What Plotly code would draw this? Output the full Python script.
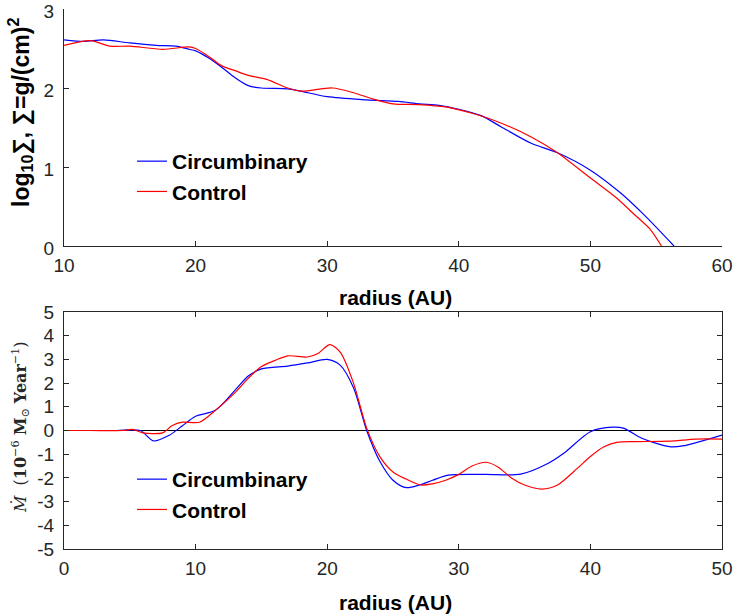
import plotly.graph_objects as go

# ---- Top panel: surface density (log10 Sigma) vs radius ----
r_top_circ = [10, 11.5, 13, 15, 17, 18.5, 19.5, 20, 21, 22, 23, 24, 25, 27, 28, 30, 33, 35.4, 37, 38.5,
              40, 41.7, 43.2, 45.5, 47.5, 50, 52.3, 54.1, 56.35]
sig_circ = [2.61, 2.59, 2.61, 2.57, 2.54, 2.53, 2.49, 2.47, 2.38, 2.26, 2.13, 2.03, 2.00, 1.99, 1.96, 1.89,
            1.85, 1.83, 1.80, 1.78, 1.73, 1.65, 1.51, 1.30, 1.18, 0.96, 0.67, 0.39, 0.0]

r_top_ctrl = [10, 12, 13.5, 15, 17.5, 19.5, 20, 21, 22, 23, 24, 25.4, 27, 28, 30.4, 32, 33.5, 35, 37, 39,
              41, 43, 45.5, 47.5, 50, 51.9, 53.4, 54.5, 55.4]
sig_ctrl = [2.54, 2.60, 2.53, 2.53, 2.49, 2.52, 2.50, 2.40, 2.28, 2.22, 2.16, 2.11, 2.00, 1.96, 2.00, 1.94,
            1.86, 1.80, 1.79, 1.76, 1.68, 1.57, 1.38, 1.18, 0.86, 0.62, 0.39, 0.22, 0.0]

# ---- Bottom panel: mass accretion rate vs radius ----
r_bot_circ = [0, 2, 4, 5.8, 6.8, 8, 9, 10, 11.5, 13, 14, 15, 17, 18.5, 20, 21, 22, 23, 24, 25, 26, 27,
              28, 29.2, 32, 34.7, 36.8, 38, 40, 41.7, 42.5, 44, 46, 47, 50]
mdot_circ = [0, 0, 0, 0, -0.44, -0.2, 0.2, 0.6, 0.85, 1.7, 2.3, 2.6, 2.72, 2.85, 3.0, 2.75, 1.8, 0.0,
             -1.3, -2.1, -2.41, -2.3, -2.1, -1.88, -1.85, -1.84, -1.38, -0.95, -0.05, 0.14, 0.1, -0.35,
             -0.68, -0.65, -0.19]

r_bot_ctrl = [0, 2, 4.5, 5.2, 6, 7.5, 8.2, 9, 10.3, 11.5, 13, 14, 15, 16, 17, 18.5, 19.3, 20.2, 21, 22, 23,
              24, 25, 26, 27.1, 28, 29, 30, 31, 32.1, 33, 34, 35, 36.3, 37.5, 39, 40, 41, 42, 43.4, 46,
              48, 50]
mdot_ctrl = [0, 0, 0, 0.05, -0.1, -0.1, 0.2, 0.35, 0.35, 0.85, 1.6, 2.2, 2.7, 2.95, 3.15, 3.1, 3.25, 3.62,
             3.3, 2.0, 0.1, -1.1, -1.75, -2.05, -2.3, -2.25, -2.1, -1.85, -1.5, -1.34, -1.55, -2.0,
             -2.3, -2.47, -2.3, -1.6, -1.1, -0.7, -0.5, -0.47, -0.45, -0.36, -0.36]

top_xticks = [10, 20, 30, 40, 50, 60]
top_yticks = [0, 1, 2, 3]
bot_xticks = [0, 10, 20, 30, 40, 50]
bot_yticks = [-5, -4, -3, -2, -1, 0, 1, 2, 3, 4, 5]
bot_ytick_text = ["-5", "-4", "-3", "-2", "-1", "0", "1", "2", "3", "4", "5"]

BLUE = "#0000ff"
RED = "#ff0000"
AX = "#262626"
W, H = 736, 615

fig = go.Figure()
line_kw = dict(width=1.2, shape="spline", smoothing=0.8)
fig.add_trace(go.Scatter(x=r_top_circ, y=sig_circ, mode="lines", name="Circumbinary",
                         line=dict(color=BLUE, **line_kw),
                         xaxis="x", yaxis="y", legend="legend", legendgroup="a"))
fig.add_trace(go.Scatter(x=r_top_ctrl, y=sig_ctrl, mode="lines", name="Control",
                         line=dict(color=RED, **line_kw),
                         xaxis="x", yaxis="y", legend="legend", legendgroup="b"))
fig.add_trace(go.Scatter(x=r_bot_circ, y=mdot_circ, mode="lines", name="Circumbinary",
                         line=dict(color=BLUE, **line_kw),
                         xaxis="x2", yaxis="y2", legend="legend2", legendgroup="c"))
fig.add_trace(go.Scatter(x=r_bot_ctrl, y=mdot_ctrl, mode="lines", name="Control",
                         line=dict(color=RED, **line_kw),
                         xaxis="x2", yaxis="y2", legend="legend2", legendgroup="d"))

def px_x(p):
    return p / W

def px_y(p):
    return 1 - p / H

SANS = "Liberation Sans, Arial, Helvetica, sans-serif"
tickfont = dict(family=SANS, size=19, color=AX)
common = dict(showgrid=False, showline=True, linecolor=AX, linewidth=1, ticks="inside",
              ticklen=5, tickcolor=AX, tickfont=tickfont, ticklabeloverflow="allow")

legfont = dict(family=SANS, size=21, color="black", weight="bold")

fig.update_layout(
    width=W, height=H, margin=dict(l=0, r=0, t=0, b=0, pad=0, autoexpand=False),
    paper_bgcolor="white", plot_bgcolor="white",
    xaxis=dict(domain=[px_x(64), px_x(722)], range=[10, 60], tickvals=top_xticks, anchor="y",
               zeroline=False, ticklabelstandoff=2, **common),
    yaxis=dict(domain=[px_y(246), px_y(9)], range=[0, 3], tickvals=top_yticks, anchor="x",
               zeroline=False, ticklabelstandoff=5, ticklabelshift=2, **common),
    xaxis2=dict(domain=[px_x(64), px_x(722)], range=[0, 50], tickvals=bot_xticks, anchor="y2",
                mirror="ticks", zeroline=False, ticklabelstandoff=2, **common),
    yaxis2=dict(domain=[px_y(549), px_y(312)], range=[-5, 5], tickvals=bot_yticks,
                ticktext=bot_ytick_text, anchor="x2",
                mirror="ticks", ticklabelstandoff=5, zeroline=True, zerolinecolor="black",
                zerolinewidth=1, **common),
    legend=dict(x=px_x(132), y=px_y(141), xanchor="left", yanchor="top", font=legfont,
                bgcolor="rgba(0,0,0,0)", tracegroupgap=0, traceorder="grouped"),
    legend2=dict(x=px_x(132), y=px_y(459), xanchor="left", yanchor="top", font=legfont,
                 bgcolor="rgba(0,0,0,0)", tracegroupgap=0, traceorder="grouped"),
    showlegend=True,
)

titlefont = dict(family=SANS, size=21, color="black", weight="bold")
fig.add_annotation(text="radius (AU)", x=px_x(395), y=px_y(297), xref="paper", yref="paper",
                   showarrow=False, font=titlefont, xanchor="center", yanchor="middle")
fig.add_annotation(text="radius (AU)", x=px_x(395), y=px_y(602), xref="paper", yref="paper",
                   showarrow=False, font=titlefont, xanchor="center", yanchor="middle")
fig.add_annotation(text="log<sub>10</sub>∑, ∑=g/(cm)<sup>2</sup>", x=px_x(20), y=px_y(113),
                   xref="paper", yref="paper", showarrow=False, textangle=-90,
                   font=dict(family=SANS, size=23, color="black", weight="bold"),
                   xanchor="center", yanchor="middle")
fig.add_annotation(text="<i>Ṁ</i>  (<b>10</b><sup>−6</sup> <b>M</b><sub>⊙</sub> <b>Year</b><sup>−1</sup>)",
                   x=px_x(20), y=px_y(427), xref="paper", yref="paper", showarrow=False,
                   textangle=-90,
                   font=dict(family="DejaVu Serif, Liberation Serif, serif", size=16, color=AX),
                   xanchor="center", yanchor="middle")

fig.write_html("out.html")
